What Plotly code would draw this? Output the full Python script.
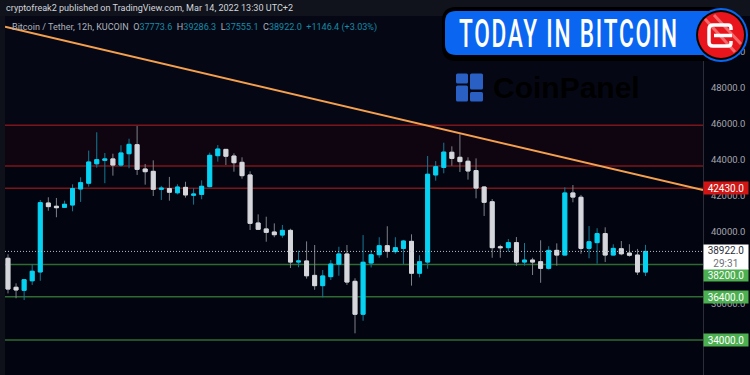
import plotly.graph_objects as go

highs = [38760,37150,37370,38210,41780,41930,41890,41740,42650,43040,44520,45540,44390,44350,44820,45180,45890,43780,43980,42560,
         43060,42650,42790,42430,42870,44410,44830,44610,44370,44150,43370,40980,40850,40480,40390,40180,38960,39480,39280,37890,
         38440,39180,39280,37430,39830,39000,39710,40320,39710,39560,39870,38710,44220,43940,44960,44760,45430,44150,44090,42540,
         41830,39290,39610,39720,39390,38570,39540,39210,39370,42480,42610,42060,40330,40210,40260,39320,39500,39320,39060,39286.3]
lows = [36590,36320,36220,37060,37290,41180,40820,41350,41150,41670,42520,43570,42710,43130,43630,43540,43170,42630,42000,41780,
        41740,42090,41910,41520,41820,42480,43910,43720,43350,42960,40110,40150,39460,39710,39680,38000,38040,37410,36790,36370,
        37330,37570,37060,34370,35070,38030,38570,38570,38790,38210,37020,37480,37960,42850,43260,43680,43330,42910,41870,40890,
        38570,38570,38910,38110,38130,37610,37180,37910,38130,38710,41650,38790,38540,38240,38330,38710,38710,38630,37610,37555.1]
body_tops = [38540,36930,37350,37820,41630,41610,41430,41540,42410,42740,43890,44020,44060,44060,44390,44870,44850,43500,43370,42440,
             42410,42500,42480,42110,42540,44260,44610,44590,44220,43870,43170,40500,40170,40000,40090,40090,38390,38390,37590,37560,
             38220,38780,38780,37260,38320,38740,39240,39240,39130,39500,39480,38350,43210,43630,44440,44430,44150,43930,43410,42500,
             41680,39180,39410,39410,38440,38440,38350,38980,38980,42170,42170,41930,39460,39910,39910,39090,39070,38830,38720,38922.0]
body_bottoms = [36830,36780,36760,37290,37780,41410,41350,41370,41500,42390,42710,43790,43980,43720,43720,44350,43480,43350,42370,42370,
                42210,42180,42060,42040,42090,42520,44240,44210,43850,43130,40480,40150,39980,39850,39830,38330,38330,37570,37020,37020,
                37520,38210,37220,35430,35430,38280,38740,38930,38910,39090,37710,37710,38330,43170,43590,44090,43910,43390,42440,41650,
                39130,39130,39130,38330,38330,38330,37980,37980,38720,38720,41940,39090,39090,39410,38720,38720,38790,38710,37780,37773.6]
down_candles = [0,1,5,6,13,16,17,18,20,22,27,28,29,30,31,32,33,35,37,38,42,43,47,50,55,56,57,58,59,60,61,63,65,66,68,70,71,74,76,77,78]

red_levels = [45930, 43670, 42430]
green_levels = [38200, 36400, 34000]
last_price = 38922.0
trend_x = [-0.37, 86.12]
trend_y = [51400, 42330]
price_ticks = [32000,34000,36000,38000,40000,42000,44000,46000,48000,50000]

opens = [body_tops[i] if i in down_candles else body_bottoms[i] for i in range(len(highs))]
closes = [body_bottoms[i] if i in down_candles else body_tops[i] for i in range(len(highs))]
xs = list(range(len(highs)))

W, H = 750, 375
L, R, T, B = 5, 703, 16, 375
BG = "#02040f"
def PX(x): return (x - L) / (R - L)
def PY(y): return 1 - (y - T) / (B - T)
def path(cmds):
    out = []
    for c in cmds:
        if isinstance(c, str):
            out.append(c)
        else:
            out.append(f"{PX(c[0]):.5f},{PY(c[1]):.5f}")
    return " ".join(out)
def rrect(x0, y0, x1, y1, r):
    return path(["M",(x0+r,y0),"L",(x1-r,y0),"Q",(x1,y0),(x1,y0+r),"L",(x1,y1-r),"Q",(x1,y1),(x1-r,y1),
                 "L",(x0+r,y1),"Q",(x0,y1),(x0,y1-r),"L",(x0,y0+r),"Q",(x0,y0),(x0+r,y0),"Z"])
def pbox(x0,y0,x1,y1,fill,layer="above",kind="rect"):
    return dict(type=kind,xref="paper",yref="paper",x0=PX(x0),x1=PX(x1),y0=PY(y0),y1=PY(y1),
                fillcolor=fill,line=dict(width=0),layer=layer)

fig = go.Figure()
fig.add_trace(go.Candlestick(x=xs, open=opens, high=highs, low=lows, close=closes,
    increasing=dict(line=dict(color="#147a96", width=1), fillcolor="#147a96"),
    decreasing=dict(line=dict(color="#7d8087", width=1), fillcolor="#7d8087"),
    whiskerwidth=0, showlegend=False, hoverinfo="skip"))
fig.add_trace(go.Candlestick(x=xs, open=opens, high=body_tops, low=body_bottoms, close=closes,
    increasing=dict(line=dict(color="#06d2f2", width=1), fillcolor="#06d2f2"),
    decreasing=dict(line=dict(color="#d5d7dc", width=1), fillcolor="#d5d7dc"),
    whiskerwidth=0, showlegend=False, hoverinfo="skip"))
fig.add_trace(go.Scatter(x=[trend_x[0], trend_x[1]], y=[last_price, last_price], mode="lines",
    line=dict(color="#b9bcc4", width=1, dash="1px 2px"), showlegend=False, hoverinfo="skip"))
fig.add_trace(go.Scatter(x=trend_x, y=trend_y, mode="lines",
    line=dict(color="#f5a04e", width=2), showlegend=False, hoverinfo="skip"))

shapes = []
shapes.append(pbox(L,T,R,125,"#050814",layer="below"))
shapes.append(dict(type="rect", xref="paper", yref="y", x0=0, x1=1, y0=red_levels[1], y1=red_levels[0],
                   fillcolor="rgba(110,15,30,0.13)", line=dict(width=0), layer="below"))
for v in red_levels:
    shapes.append(dict(type="line", xref="paper", yref="y", x0=0, x1=1, y0=v, y1=v,
                       line=dict(color="#7c1519", width=1.5), layer="below"))
for v in green_levels:
    shapes.append(dict(type="line", xref="paper", yref="y", x0=0, x1=1, y0=v, y1=v,
                       line=dict(color="#2f6a33", width=1.5), layer="below"))
shapes.append(pbox(0,0,W,T,"#10131c"))
shapes.append(pbox(0,T,L,H,"#0e1119"))
for b in [(456,73.5,468,83.5),(470,73.5,483,89.5),(456,85.5,468,101.5),(470,92,483,101.5)]:
    shapes.append(dict(type="path", xref="paper", yref="paper", path=rrect(*b,1.5), fillcolor="#2a5fc4",
                       line=dict(width=0), layer="above"))
shapes.append(dict(type="path", xref="paper", yref="paper", path=rrect(442,7,725,61,14), fillcolor="#000000",
                   line=dict(width=0), layer="above"))
shapes.append(dict(type="path", xref="paper", yref="paper", path=rrect(445,11,725,55,11), fillcolor="#0a66f0",
                   line=dict(width=0), layer="above"))
shapes.append(pbox(694,8,748,62,"#0a66f0",kind="circle"))
shapes.append(pbox(696,10,746,60,"#050505",kind="circle"))
shapes.append(pbox(698,12,744,58,"#e8161c",kind="circle"))
for a,b,wd in [((705,19),(735,52),3),((714,15),(741,44),3)]:
    shapes.append(dict(type="path", xref="paper", yref="paper", path=path(["M",a,"L",b]),
                       line=dict(color="#f4676b", width=wd), layer="above"))
logo = path(["M",(731,30),"L",(731,28),"Q",(731,25),(728,25),"L",(713,25),"Q",(709,25),(709,29),"L",(709,42),
             "Q",(709,46),(713,46),"L",(728,46),"Q",(731,46),(731,43),"L",(731,41)])
shapes.append(dict(type="path", xref="paper", yref="paper", path=logo, line=dict(color="white", width=3.5), layer="above"))
shapes.append(dict(type="path", xref="paper", yref="paper", path=path(["M",(714,35.5),"L",(732,35.5)]),
                   line=dict(color="white", width=3.5), layer="above"))

def lab(level, color, txtcolor="white", yshift=0, h=12, text=None):
    return dict(x=1, xref="paper", y=level, yref="y", xanchor="left", yanchor="middle", yshift=yshift,
                text=text or f"{level:.1f}", showarrow=False, bgcolor=color, width=44, height=h, borderpad=0,
                align="center", font=dict(family="Roboto", size=10, color=txtcolor))

G = "#aeb2bb"; V = "#178aa6"
legend_text = (f'<span style="color:{G}">Bitcoin / Tether, 12h, KUCOIN&#160;&#160;O</span>'
               f'<span style="color:{V}">{opens[-1]}</span><span style="color:{G}">&#160;&#160;H</span>'
               f'<span style="color:{V}">{highs[-1]}</span><span style="color:{G}">&#160;&#160;L</span>'
               f'<span style="color:{V}">{lows[-1]}</span><span style="color:{G}">&#160;&#160;C</span>'
               f'<span style="color:{V}">{closes[-1]:.1f}&#160;&#160;+1146.4 (+3.03%)</span>')
annotations = [
    dict(x=PX(4), y=PY(8), xref="paper", yref="paper", xanchor="left", yanchor="middle", showarrow=False,
         text="cryptofreak2 published on TradingView.com, Mar 14, 2022 13:30 UTC+2",
         font=dict(family="Roboto", size=9.05, color="#d3d5db")),
    dict(x=PX(9.5), y=PY(27.5), xref="paper", yref="paper", xanchor="left", yanchor="middle", showarrow=False,
         text=legend_text, font=dict(family="Roboto", size=9.05, color=G)),
    dict(x=PX(569), y=PY(34), xref="paper", yref="paper", xanchor="center", yanchor="middle", showarrow=False,
         text="TODAY IN BITCOIN", font=dict(family="Roboto", size=38, color="white", weight=500)),
    dict(x=PX(491), y=PY(88), xref="paper", yref="paper", xanchor="left", yanchor="middle", showarrow=False,
         text="<b>CoinPanel</b>", font=dict(family="Liberation Sans", size=30, color="#000000")),
    lab(42430.0, "#d11414"),
    lab(38200.0, "#4caf50", yshift=-11),
    lab(36400.0, "#4caf50"),
    lab(34000.0, "#4caf50"),
    lab(last_price, "#ffffff", txtcolor="#2b2f3a", yshift=-5.5, h=24,
        text=f"{last_price:.1f}<br><span style='color:#6d7078'>29:31</span>"),
]

fig.update_layout(
    width=W, height=H, autosize=False,
    margin=dict(l=L, r=W-R, t=T, b=H-B, pad=0),
    paper_bgcolor=BG, plot_bgcolor=BG, showlegend=False,
    boxgap=0.3,
    xaxis=dict(range=[-0.37, 86.12], showgrid=False, zeroline=False, showticklabels=False, ticks="",
               rangeslider=dict(visible=False), showline=False, fixedrange=True),
    yaxis=dict(range=[32056, 52000], side="right", showgrid=False, zeroline=False, ticks="",
               tickvals=price_ticks, tickformat=".1f", ticklabelstandoff=5,
               tickfont=dict(family="Roboto", size=9.5, color="#a3a6ae"),
               showline=True, linecolor="#2a2e39", linewidth=1, fixedrange=True, automargin=False),
    shapes=shapes, annotations=annotations,
)
post = """
document.documentElement.style.margin='0';
document.body.style.margin='0';
document.body.style.background='#02040f';
document.querySelectorAll('.annotation-text').forEach(function(el){
  if(el.textContent.indexOf('TODAY')===0){
    el.style.letterSpacing='3px';
    var w=el.getBBox().width;
    el.style.transformBox='fill-box';
    el.style.transformOrigin='center';
    el.style.transform='scaleX('+(220/w)+')';
  }
});
"""
fig.write_html("out.html", config=dict(displayModeBar=False), post_script=post)
